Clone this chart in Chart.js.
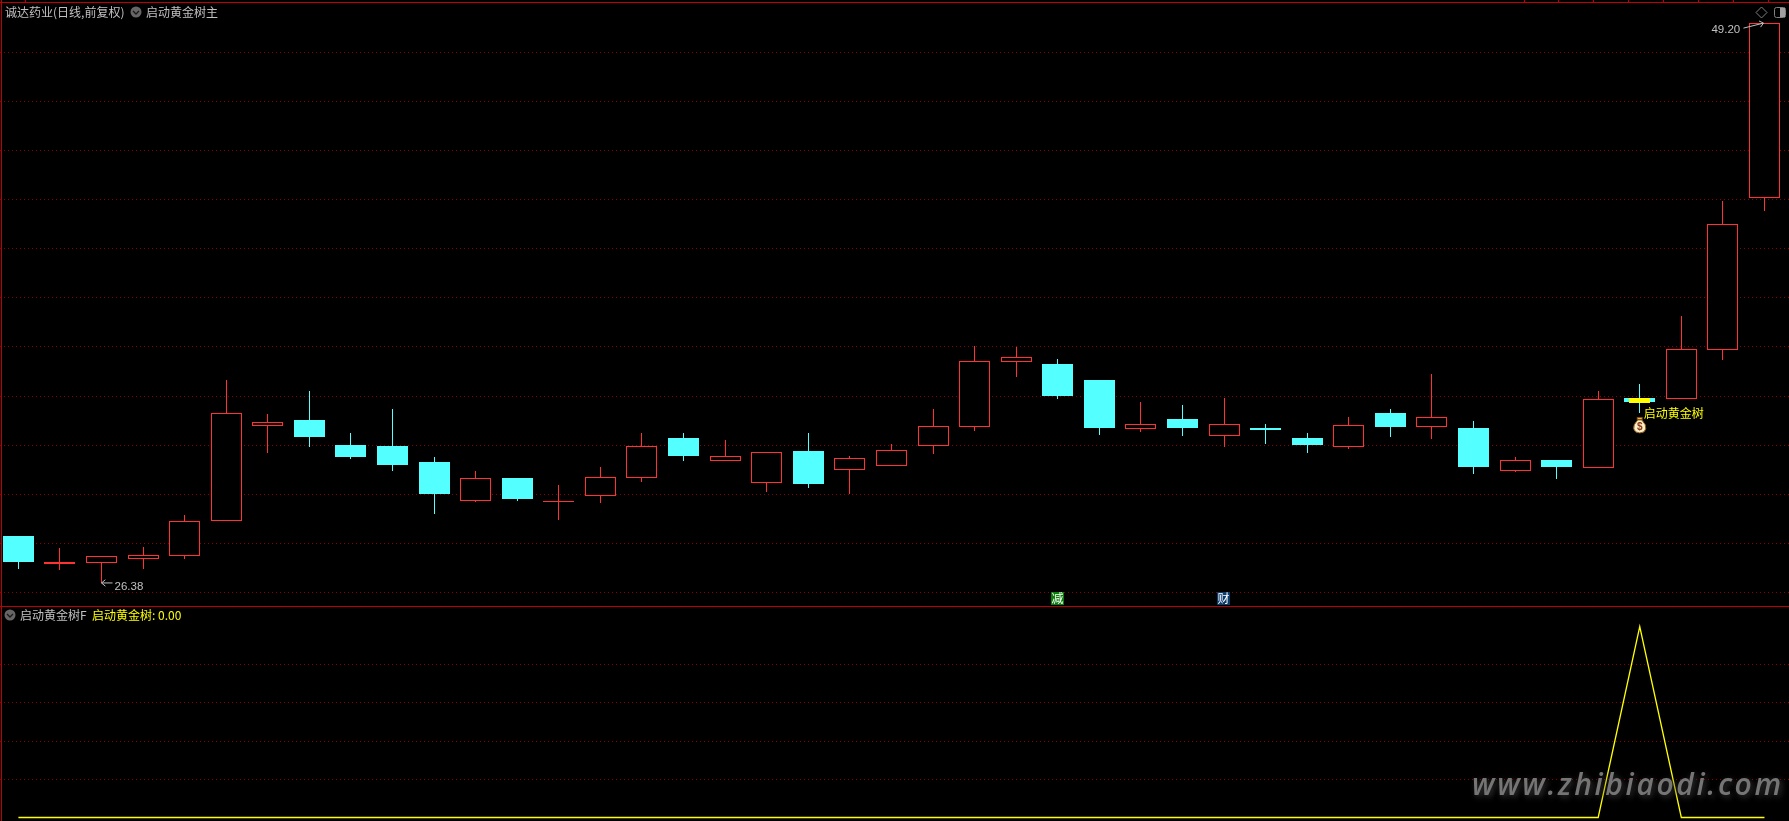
<!DOCTYPE html>
<html>
<head>
<meta charset="utf-8">
<title>诚达药业</title>
<script src="https://cdn.jsdelivr.net/npm/chart.js@4/dist/chart.umd.min.js"></script>
<style>
	html, body { margin: 0; padding: 0; background: #000; overflow: hidden; }
	canvas { position: absolute; left: 0; display: block; }
	#mainChart { top: 0; }
	#subChart { top: 606px; }
</style>
</head>
<body>
<canvas id="mainChart" width="1789" height="606"></canvas>
<canvas id="subChart" width="1789" height="215"></canvas>
<script>
// Daily bars
const days = [0, 1, 2, 3, 4, 5, 6, 7, 8, 9, 10, 11, 12, 13, 14, 15, 16, 17, 18, 19, 20, 21, 22, 23, 24, 25, 26, 27, 28, 29, 30, 31, 32, 33, 34, 35, 36, 37, 38, 39, 40, 41, 42];
const opens = [28.30, 27.15, 27.20, 27.36, 27.48, 28.91, 32.78, 33.03, 32.01, 31.97, 31.31, 29.72, 30.66, 29.66, 29.93, 30.66, 32.29, 31.36, 30.46, 31.76, 30.99, 31.15, 31.97, 32.74, 35.39, 35.31, 34.66, 32.66, 33.07, 32.38, 32.70, 32.29, 31.93, 33.31, 32.74, 32.70, 30.95, 31.40, 31.07, 33.93, 33.89, 35.88, 42.08];
const highs = [28.30, 27.81, 27.48, 27.85, 29.15, 34.66, 33.27, 34.21, 32.50, 33.48, 31.52, 30.95, 30.66, 30.38, 31.11, 32.50, 32.50, 32.21, 31.72, 32.50, 31.56, 32.05, 33.48, 36.05, 36.01, 35.52, 34.66, 33.76, 33.64, 33.93, 32.87, 32.50, 33.15, 33.48, 34.90, 32.99, 31.52, 31.40, 34.21, 34.50, 37.27, 41.96, 49.20];
const lows = [26.95, 26.91, 26.38, 26.95, 27.36, 28.91, 31.68, 31.93, 31.44, 30.95, 29.19, 29.68, 29.72, 28.95, 29.64, 30.50, 31.36, 31.36, 30.09, 30.25, 30.01, 31.15, 31.64, 32.58, 34.78, 33.89, 32.42, 32.54, 32.38, 31.93, 32.05, 31.68, 31.85, 32.33, 32.25, 30.83, 30.91, 30.62, 31.07, 33.31, 33.89, 35.48, 41.55];
const closes = [27.24, 27.24, 27.48, 27.52, 28.91, 33.31, 32.95, 32.33, 31.52, 31.19, 30.01, 30.66, 29.81, 29.72, 30.70, 31.97, 31.56, 31.56, 31.72, 30.42, 31.48, 31.81, 32.78, 35.43, 35.60, 34.01, 32.70, 32.87, 32.70, 32.87, 32.62, 32.01, 32.82, 32.74, 33.15, 31.11, 31.40, 31.11, 33.89, 33.76, 35.92, 41.02, 49.20];
// falling days are filled, rising days are hollow
const falling = [1, 0, 0, 0, 0, 0, 0, 1, 1, 1, 1, 0, 1, 0, 0, 0, 1, 0, 0, 1, 0, 0, 0, 0, 0, 1, 1, 0, 1, 0, 1, 1, 0, 1, 0, 1, 0, 1, 0, 1, 0, 0, 0];

// Signal line in the lower panel and the yellow bar on the signal day
const signal = [0, 0, 0, 0, 0, 0, 0, 0, 0, 0, 0, 0, 0, 0, 0, 0, 0, 0, 0, 0, 0, 0, 0, 0, 0, 0, 0, 0, 0, 0, 0, 0, 0, 0, 0, 0, 0, 0, 0, 1, 0, 0, 0];
const signalDay = 39;
const signalBar = [33.72, 33.93];

// Grid levels
const mainGrid = [26, 28, 30, 32, 34, 36, 38, 40, 42, 44, 46, 48];
const subGrid = [0.2, 0.4, 0.6, 0.8];

// Text
const titleStock = '诚达药业(日线,前复权)';
const titleMain = '启动黄金树主';
const titleSub = '启动黄金树F';
const signalName = '启动黄金树';
const signalValue = '启动黄金树: 0.00';
const highLabel = '49.20';
const lowLabel = '26.38';
const watermark = 'www.zhibiaodi.com';
const calendarMarks = [{ day: 25, text: '减', color: '#0a7d0a' }, { day: 29, text: '财', color: '#0b3c6e' }];

const topTicks = [25, 1524, 1558, 1593, 1628, 1663, 1698, 1733, 1768];

const RED = '#ff3232';
const CYAN = '#54ffff';
const YELLOW = '#ffff00';
const FRAME = '#c00000';
const GRID = '#8c0000';
const GREY = '#c0c0c0';
const CJK = "12px 'Noto Sans CJK SC'";
const NUM = "11.5px 'Liberation Sans'";

// x range so the first candle sits at 18.4px and spacing is 41.57px
const xMin = -0.4426;
const xMax = 42.59;

function drawText(ctx, str, x, y, color, font) {
	ctx.fillStyle = color;
	ctx.font = font;
	ctx.textBaseline = 'middle';
	ctx.textAlign = 'left';
	ctx.fillText(str, x, y);
}

function drawToggle(ctx, x, y) {
	ctx.fillStyle = '#666666';
	ctx.beginPath();
	ctx.arc(x, y, 5.5, 0, Math.PI * 2);
	ctx.fill();
	ctx.strokeStyle = '#1a1a1a';
	ctx.lineWidth = 1.3;
	ctx.beginPath();
	ctx.moveTo(x - 3, y - 1);
	ctx.lineTo(x, y + 2);
	ctx.lineTo(x + 3, y - 1);
	ctx.stroke();
}

function drawArrowLine(ctx, x1, y1, x2, y2) {
	const angle = Math.atan2(y2 - y1, x2 - x1);
	ctx.strokeStyle = GREY;
	ctx.lineWidth = 1;
	ctx.beginPath();
	ctx.moveTo(x1, y1);
	ctx.lineTo(x2, y2);
	ctx.moveTo(x2 - 5 * Math.cos(angle - 0.7), y2 - 5 * Math.sin(angle - 0.7));
	ctx.lineTo(x2, y2);
	ctx.lineTo(x2 - 5 * Math.cos(angle + 0.7), y2 - 5 * Math.sin(angle + 0.7));
	ctx.stroke();
}

function drawMoneyBag(ctx, x, y) {
	ctx.fillStyle = '#7a4a10';
	ctx.fillRect(x - 3, y - 8, 6, 3);
	ctx.fillStyle = '#f2c14e';
	ctx.fillRect(x - 2, y - 7, 4, 1);
	ctx.fillStyle = '#fbeec8';
	ctx.strokeStyle = '#8a5a14';
	ctx.lineWidth = 1;
	ctx.beginPath();
	ctx.moveTo(x - 2, y - 5);
	ctx.lineTo(x + 2, y - 5);
	ctx.quadraticCurveTo(x + 7, y, x + 6, y + 4);
	ctx.quadraticCurveTo(x + 5, y + 8, x, y + 8);
	ctx.quadraticCurveTo(x - 5, y + 8, x - 6, y + 4);
	ctx.quadraticCurveTo(x - 7, y, x - 2, y - 5);
	ctx.fill();
	ctx.stroke();
	ctx.textAlign = 'center';
	ctx.textBaseline = 'middle';
	ctx.fillStyle = '#8a3a14';
	ctx.font = "bold 10px 'Liberation Sans'";
	ctx.fillText('$', x, y + 2);
}

// Bars come out on fractional pixels, snap them so the candles stay crisp
const snapBars = {
	id: 'snapBars',
	beforeDatasetDraw(chart, args) {
		const meta = args.meta;
		if (meta.type !== 'bar') return;
		meta.data.forEach(el => {
			if (el.skip) return;
			el.x = Math.round(el.x - el.width / 2) + el.width / 2;
			el.y = Math.round(el.y);
			el.base = Math.round(el.base);
		});
	}
};

const mainDecor = {
	id: 'mainDecor',
	afterDraw(chart) {
		const ctx = chart.ctx;
		const x = chart.scales.x;
		const y = chart.scales.y;
		ctx.save();
		// frame
		ctx.fillStyle = FRAME;
		ctx.fillRect(0, 2, chart.width, 1);
		ctx.fillRect(1, 0, 1, chart.height);
		topTicks.forEach(t => ctx.fillRect(t, 0, 1, 2));
		// titles
		drawText(ctx, titleStock, 5, 12, GREY, CJK);
		drawToggle(ctx, 136, 12);
		drawText(ctx, titleMain, 146, 12, GREY, CJK);
		// top right buttons
		ctx.strokeStyle = '#808080';
		ctx.lineWidth = 1;
		ctx.beginPath();
		ctx.moveTo(1761.5, 7);
		ctx.lineTo(1767, 12.5);
		ctx.lineTo(1761.5, 18);
		ctx.lineTo(1756, 12.5);
		ctx.closePath();
		ctx.stroke();
		ctx.beginPath();
		ctx.roundRect(1774.5, 7.5, 11, 10, 2);
		ctx.stroke();
		ctx.fillStyle = '#a0a0a0';
		ctx.fillRect(1780, 8, 5, 9);
		// high and low tags
		const hx = x.getPixelForValue(42);
		const hy = y.getPixelForValue(highs[42]);
		drawText(ctx, highLabel, hx - 53, hy + 6.5, GREY, NUM);
		drawArrowLine(ctx, hx - 21, hy + 5, hx - 1, hy);
		const lx = x.getPixelForValue(2);
		const ly = y.getPixelForValue(lows[2]);
		drawArrowLine(ctx, lx + 11, ly, lx, ly);
		drawText(ctx, lowLabel, lx + 13, ly + 4, GREY, NUM);
		// signal text and bag
		const sx = x.getPixelForValue(signalDay);
		const sy = y.getPixelForValue(lows[signalDay]);
		drawText(ctx, signalName, sx + 4, sy + 1, YELLOW, CJK);
		drawMoneyBag(ctx, sx, sy + 12);
		// calendar marks along the bottom
		calendarMarks.forEach(m => {
			const mx = Math.round(x.getPixelForValue(m.day));
			ctx.fillStyle = m.color;
			ctx.fillRect(mx - 7, chart.height - 14, 13, 13);
			ctx.textAlign = 'center';
			ctx.textBaseline = 'middle';
			ctx.fillStyle = '#ffffff';
			ctx.font = CJK;
			ctx.fillText(m.text, mx - 0.5, chart.height - 7.5);
		});
		ctx.restore();
	}
};

const subDecor = {
	id: 'subDecor',
	afterDraw(chart) {
		const ctx = chart.ctx;
		ctx.save();
		ctx.fillStyle = FRAME;
		ctx.fillRect(0, 0, chart.width, 1);
		ctx.fillRect(1, 0, 1, chart.height);
		drawToggle(ctx, 10, 9);
		drawText(ctx, titleSub, 20, 9, GREY, CJK);
		drawText(ctx, signalValue, 92, 9, YELLOW, CJK);
		// site watermark
		ctx.shadowColor = '#3a3a3a';
		ctx.shadowBlur = 6;
		ctx.shadowOffsetX = 2;
		ctx.shadowOffsetY = 2;
		ctx.letterSpacing = '2.6px';
		drawText(ctx, watermark, 1472, 180, '#757575', "italic 600 30px 'Open Sans'");
		ctx.restore();
	}
};

function gridScale(ticks, min, max) {
	return {
		min: min,
		max: max,
		afterFit: scale => { scale.width = 0; },
		afterBuildTicks: scale => { scale.ticks = ticks.map(v => ({ value: v })); },
		ticks: { display: false },
		border: { display: false, dash: [1, 3] },
		grid: { color: GRID, drawTicks: false, lineWidth: 1 }
	};
}

const sharedOptions = {
	responsive: false,
	animation: false,
	devicePixelRatio: 1,
	events: [],
	plugins: { legend: { display: false }, tooltip: { enabled: false } }
};

new Chart(document.getElementById('mainChart').getContext('2d'), {
	type: 'bar',
	data: {
		datasets: [
			{
				label: 'signal',
				order: 0,
				barThickness: 21,
				inflateAmount: 0,
				backgroundColor: YELLOW,
				data: [{ x: signalDay, y: signalBar }]
			},
			{
				label: 'body',
				order: 1,
				barThickness: 31,
				inflateAmount: 0,
				borderWidth: 1,
				borderSkipped: false,
				backgroundColor: days.map(i => falling[i] ? CYAN : '#000000'),
				borderColor: days.map(i => falling[i] ? CYAN : RED),
				data: days.map(i => ({ x: i, y: [opens[i], closes[i]] }))
			},
			{
				label: 'wick',
				order: 2,
				barThickness: 1,
				inflateAmount: 0,
				backgroundColor: days.map(i => falling[i] ? CYAN : RED),
				data: days.map(i => ({ x: i, y: [lows[i], highs[i]] }))
			}
		]
	},
	options: {
		...sharedOptions,
		layout: { padding: { top: 3 } },
		datasets: { bar: { grouped: false } },
		scales: {
			x: { type: 'linear', display: false, offset: false, min: xMin, max: xMax },
			y: gridScale(mainGrid, 25.44, 50.02)
		}
	},
	plugins: [snapBars, mainDecor]
});

new Chart(document.getElementById('subChart').getContext('2d'), {
	type: 'line',
	data: {
		datasets: [{
			label: signalName,
			borderColor: YELLOW,
			borderWidth: 1.3,
			pointRadius: 0,
			tension: 0,
			data: days.map(i => ({ x: i, y: signal[i] }))
		}]
	},
	options: {
		...sharedOptions,
		scales: {
			x: { type: 'linear', display: false, min: xMin, max: xMax },
			y: gridScale(subGrid, -0.0183, 1.1073)
		}
	},
	plugins: [subDecor]
});
</script>
</body>
</html>
